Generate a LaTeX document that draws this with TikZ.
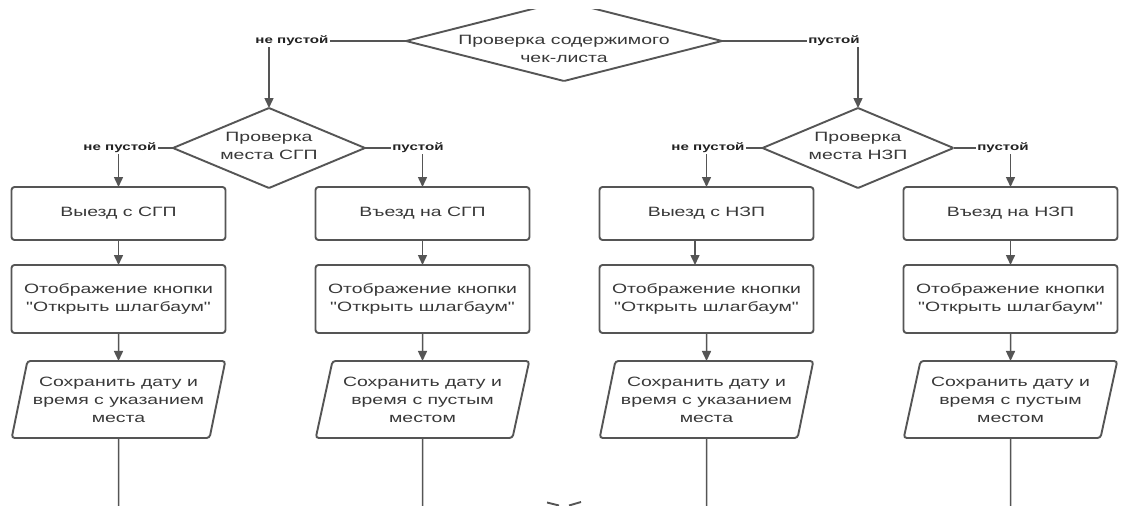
\documentclass[tikz,border=0pt]{standalone}
\usepackage{fontspec}
\setmainfont{Liberation Sans}[FakeStretch=1.44,Ligatures=TeXOff]
\usetikzlibrary{shapes.geometric,arrows.meta,calc}
\definecolor{ln}{HTML}{555555}
\definecolor{tx}{HTML}{383838}
\definecolor{lb}{HTML}{222222}
\begin{document}
\begin{tikzpicture}[x=1pt,y=-1pt,
  shp/.style={draw=ln,line width=1.9pt,fill=white,text=tx,align=center,
    font=\fontsize{13.5}{18}\selectfont,inner sep=0pt,outer sep=0pt},
  box/.style={shp,rectangle,rounded corners=3pt,minimum width=214pt},
  dia/.style={shp,diamond,rounded corners=1pt},
  par/.style={shp,trapezium,trapezium left angle=72,trapezium right angle=108,
    trapezium stretches=true,minimum width=214pt,minimum height=77pt,rounded corners=3pt},
  txt/.style={text=tx,align=center,font=\fontsize{13.5}{18}\selectfont,inner sep=0pt},
  lab/.style={text=lb,font=\fontsize{10.5}{12}\selectfont\bfseries,inner sep=1pt},
  con/.style={draw=ln,line width=1.5pt},
  arr/.style={con,-{Triangle[length=10pt,width=9pt]}}
]
\useasboundingbox (0,0) rectangle (1122,506);
\fill[white] (0,0) rectangle (1122,506);
\clip (0,9) rectangle (1122,506);

% top decision
\node[dia,minimum width=316pt,minimum height=80pt] (d0) at (564,41) {};
\node[txt] (t0) at (564,49) {Проверка содержимого\\чек-листа};
\node[lab] (L0) at (292,41) {не пустой};
\node[lab] (R0) at (834,41) {пустой};
\draw[con] (d0.west) -- (L0.east);
\draw[con] (d0.east) -- (R0.west);

% second-level decisions
\node[dia,minimum width=192pt,minimum height=80pt] (d1) at (269,148) {};
\node[txt] (t1) at (269,146) {Проверка\\места СГП};
\node[dia,minimum width=191pt,minimum height=80pt] (d2) at (858,148) {};
\node[txt] (t2) at (858,146) {Проверка\\места НЗП};
\draw[arr] (L0.south -| d1.north) -- (d1.north);
\draw[arr] (R0.south -| d2.north) -- (d2.north);

\node[lab] (L1) at (120,148) {не пустой};
\node[lab] (R1) at (418,148) {пустой};
\node[lab] (L2) at (708,148) {не пустой};
\node[lab] (R2) at (1003,148) {пустой};
\draw[con] (d1.west) -- (L1.east);
\draw[con] (d1.east) -- (R1.west);
\draw[con] (d2.west) -- (L2.east);
\draw[con] (d2.east) -- (R2.west);

% row 1 boxes
\node[box,minimum height=53pt] (b11) at (118.5,213.5) {Выезд с СГП};
\node[box,minimum height=53pt] (b12) at (422.5,213.5) {Въезд на СГП};
\node[box,minimum height=53pt] (b13) at (706.5,213.5) {Выезд с НЗП};
\node[box,minimum height=53pt] (b14) at (1010.5,213.5) {Въезд на НЗП};
\draw[arr] (L1.south -| b11.north) -- (b11.north);
\draw[arr] (R1.south -| b12.north) -- (b12.north);
\draw[arr] (L2.south -| b13.north) -- (b13.north);
\draw[arr] (R2.south -| b14.north) -- (b14.north);

% row 2 boxes
\node[box,minimum height=68pt] (b21) at (118.5,299) {Отображение кнопки\\"Открыть шлагбаум"};
\node[box,minimum height=68pt] (b22) at (422.5,299) {Отображение кнопки\\"Открыть шлагбаум"};
\node[box,minimum height=68pt] (b23) at (706.5,299) {Отображение кнопки\\"Открыть шлагбаум"};
\node[box,minimum height=68pt] (b24) at (1010.5,299) {Отображение кнопки\\"Открыть шлагбаум"};
\draw[arr] (b11.south) -- (b21.north);
\draw[arr] (b12.south) -- (b22.north);
\draw[arr] ([xshift=-11.5pt]b13.south) -- ([xshift=-11.5pt]b13.south |- b23.north);
\draw[arr] (b14.south) -- (b24.north);

% parallelograms
\node[par] (p1) at (118.5,399.5) {Сохранить дату и\\время с указанием\\места};
\node[par] (p2) at (422.5,399.5) {Сохранить дату и\\время с пустым\\местом};
\node[par] (p3) at (706.5,399.5) {Сохранить дату и\\время с указанием\\места};
\node[par] (p4) at (1010.5,399.5) {Сохранить дату и\\время с пустым\\местом};
\draw[arr] (b21.south) -- (p1.north);
\draw[arr] (b22.south) -- (p2.north);
\draw[arr] (b23.south) -- (p3.north);
\draw[arr] (b24.south) -- (p4.north);

% continuing lines
\coordinate (e1) at (118.5,506);
\coordinate (e2) at (422.5,506);
\coordinate (e3) at (706.5,506);
\coordinate (e4) at (1010.5,506);
\draw[con] (p1.south) -- (e1);
\draw[con] (p2.south) -- (e2);
\draw[con] (p3.south) -- (e3);
\draw[con] (p4.south) -- (e4);

% partial mark at the bottom edge
\coordinate (m1) at (547,502.5);
\coordinate (m2) at (559,505.5);
\coordinate (m3) at (569,505.5);
\coordinate (m4) at (581,502);
\draw[con,line width=1.9pt] (m1) -- (m2);
\draw[con,line width=1.9pt] (m3) -- (m4);
\end{tikzpicture}
\end{document}
